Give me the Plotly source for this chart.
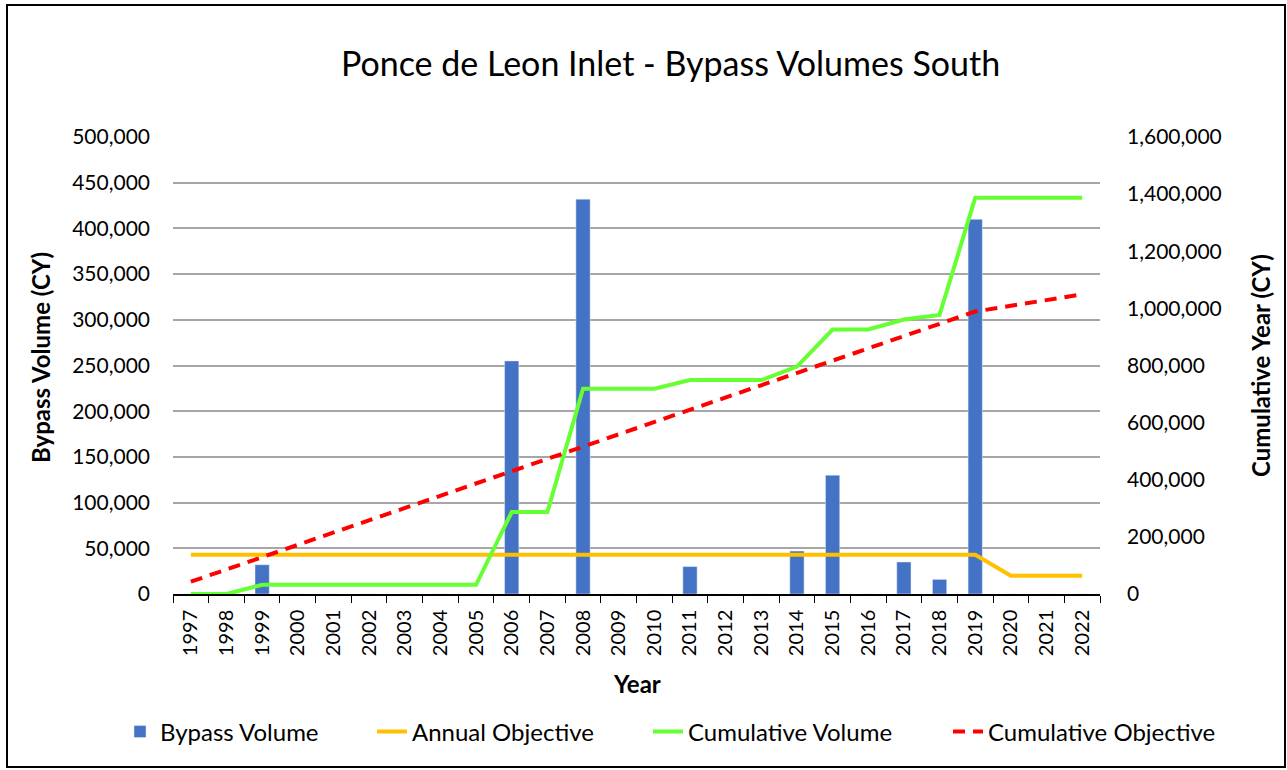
import plotly.graph_objects as go

years = [str(y) for y in range(1997, 2023)]
bypass_volume = [0, 0, 32000, 0, 0, 0, 0, 0, 0, 255000, 0, 432000, 0, 0, 30000, 0, 0, 47000,
                 130000, 0, 35000, 16000, 410000, 0, 0, 0]
annual_objective = [43000] * 23 + [20000] * 3
cumulative_volume = [0, 0, 32000, 32000, 32000, 32000, 32000, 32000, 32000, 287000, 287000,
                     719000, 719000, 719000, 749000, 749000, 749000, 796000, 926000, 926000,
                     961000, 977000, 1387000, 1387000, 1387000, 1387000]
cumulative_objective = [43000, 86000, 129000, 172000, 215000, 258000, 301000, 344000, 387000,
                        430000, 473000, 516000, 559000, 602000, 645000, 688000, 731000, 774000,
                        817000, 860000, 903000, 946000, 989000, 1009000, 1029000, 1049000]

FONT = "Lato"
L, R, T, B = 173, 187, 137, 176
PW, PH = 1287 - L - R, 770 - T - B


def px(x):
    return (x - L) / PW


def py(y):
    return (770 - B - y) / PH


fig = go.Figure()
fig.add_trace(go.Bar(x=years, y=bypass_volume, name="Bypass Volume", marker_color="#4472C4",
                     legend="legend"))
fig.add_trace(go.Scatter(x=years, y=annual_objective, name="Annual Objective", mode="lines",
                         legend="legend2", line=dict(color="#FFC000", width=4)))
fig.add_trace(go.Scatter(x=years, y=cumulative_volume, name="Cumulative Volume", mode="lines",
                         yaxis="y2", legend="legend3", line=dict(color="#66FF33", width=4)))
fig.add_trace(go.Scatter(x=years, y=cumulative_objective, name="Cumulative Objective",
                         mode="lines", yaxis="y2", legend="legend4",
                         line=dict(color="#FF0000", width=4, dash="12px,8px")))

legend_style = dict(orientation="h", yanchor="middle", y=py(732), xanchor="left",
                    font=dict(size=24), bgcolor="rgba(0,0,0,0)", visible=True)

fig.update_layout(
    width=1287, height=770,
    margin=dict(l=L, r=R, t=T, b=B),
    paper_bgcolor="white", plot_bgcolor="white",
    font=dict(family=FONT, size=21, color="black"),
    bargap=0.6,
    showlegend=True,
    title=dict(text="Ponce de Leon Inlet - Bypass Volumes South", font=dict(size=34),
               x=0.521, xref="container", xanchor="center",
               y=1 - 64 / 770, yref="container", yanchor="middle"),
    legend=dict(legend_style, x=px(120)),
    legend2=dict(legend_style, x=px(372)),
    legend3=dict(legend_style, x=px(648)),
    legend4=dict(legend_style, x=px(948)),
    xaxis=dict(type="category", tickson="boundaries", ticks="outside", ticklen=7,
               tickcolor="black", showline=True, linecolor="black", linewidth=1.5,
               showgrid=False, tickangle=-90, tickfont=dict(size=20), ticklabelstandoff=6,
               automargin=False),
    yaxis=dict(range=[0, 500000], dtick=50000, tickformat=",", showgrid=True,
               gridcolor="#A6A6A6", gridwidth=1.5, zeroline=False, showline=False,
               ticks="", ticklabelstandoff=22, automargin=False),
    yaxis2=dict(range=[0, 1600000], dtick=200000, tickformat=",", overlaying="y",
                side="right", showgrid=False, zeroline=False, showline=False, ticks="",
                ticklabelstandoff=26, automargin=False),
    annotations=[
        dict(text="<b>Year</b>", x=px(637), y=py(683), xref="paper", yref="paper",
             xanchor="center", yanchor="middle", showarrow=False, font=dict(size=24)),
        dict(text="<b>Bypass Volume (CY)</b>", x=px(40), y=py(358), xref="paper",
             yref="paper", xanchor="center", yanchor="middle", showarrow=False,
             textangle=-90, font=dict(size=24)),
        dict(text="<b>Cumulative Year (CY)</b>", x=px(1260), y=py(366), xref="paper",
             yref="paper", xanchor="center", yanchor="middle", showarrow=False,
             textangle=-90, font=dict(size=24)),
    ],
    shapes=[dict(type="rect", xref="paper", yref="paper", x0=px(7), x1=px(1285),
                 y0=py(767), y1=py(5), line=dict(color="black", width=2))],
)

fig.write_html("out.html", config={"displayModeBar": False},
               post_script="document.body.style.margin='0';")
